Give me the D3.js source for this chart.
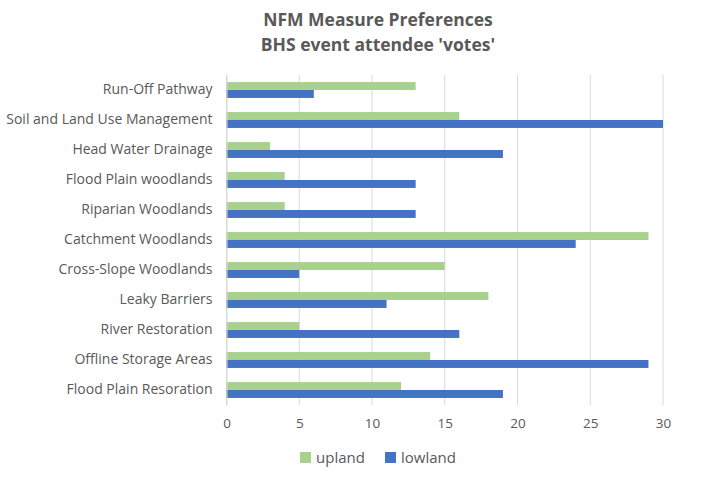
<!DOCTYPE html>
<html>
<head>
<meta charset="utf-8">
<script src="https://cdn.jsdelivr.net/npm/d3@7"></script>
<style>
  body { margin: 0; background: #fff; }
  svg { font-family: "Open Sans", "Liberation Sans", sans-serif; }
</style>
</head>
<body>
<svg id="chart" width="717" height="479"></svg>
<script>
// ============================================================
// DATA
// ============================================================
const categories = [
  'Run-Off Pathway', 'Soil and Land Use Management', 'Head Water Drainage',
  'Flood Plain woodlands', 'Riparian Woodlands', 'Catchment Woodlands',
  'Cross-Slope Woodlands', 'Leaky Barriers', 'River Restoration',
  'Offline Storage Areas', 'Flood Plain Resoration'
];
const upland = [13, 16, 3, 4, 4, 29, 15, 18, 5, 14, 12];
const lowland = [6, 30, 19, 13, 13, 24, 5, 11, 16, 29, 19];
const xTicks = [0, 5, 10, 15, 20, 25, 30];
const seriesNames = ['upland', 'lowland'];
const seriesColors = ['#A9D18E', '#4472C4'];

// ============================================================
// SCALES
// ============================================================
const svg = d3.select('#chart');
const plotL = 226.5, plotR = 663, plotT = 75, plotB = 405;
const textCol = '#595959';

const x = d3.scaleLinear().domain([0, 30]).range([plotL, plotR]);
const y = d3.scaleBand().domain(categories).range([plotT, plotB]).paddingInner(0.47).paddingOuter(0.235);
const sub = d3.scaleBand().domain(seriesNames).range([0, y.bandwidth()]);

// title
svg.append('text').attr('x', 378).attr('y', 26).attr('text-anchor', 'middle')
  .attr('font-size', 17.5).attr('font-weight', 'bold').attr('fill', textCol)
  .text('NFM Measure Preferences');
svg.append('text').attr('x', 378).attr('y', 51).attr('text-anchor', 'middle')
  .attr('font-size', 17.5).attr('font-weight', 'bold').attr('fill', textCol)
  .text("BHS event attendee 'votes'");

// gridlines
svg.append('g').selectAll('line').data(xTicks).join('line')
  .attr('x1', d => x(d)).attr('x2', d => x(d))
  .attr('y1', plotT).attr('y2', plotB)
  .attr('stroke', '#D9D9D9').attr('stroke-width', 1);

// bars
const rows = categories.map((c, i) => ({ cat: c, upland: upland[i], lowland: lowland[i] }));
seriesNames.forEach((s, si) => {
  svg.append('g').selectAll('rect').data(rows).join('rect')
    .attr('x', x(0))
    .attr('y', d => y(d.cat) + sub(s))
    .attr('width', d => x(d[s]) - x(0))
    .attr('height', sub.bandwidth())
    .attr('fill', seriesColors[si]);
});

// x axis
const xAxis = svg.append('g').attr('transform', `translate(0,${plotB})`)
  .call(d3.axisBottom(x).tickValues(xTicks).tickSize(0).tickPadding(13));
xAxis.select('.domain').remove();
xAxis.selectAll('text').attr('font-size', 13.5).attr('fill', textCol)
  .attr('font-family', '"Open Sans", "Liberation Sans", sans-serif');

// y axis
const yAxis = svg.append('g').attr('transform', `translate(${plotL},0)`)
  .call(d3.axisLeft(y).tickSize(0).tickPadding(14));
yAxis.select('.domain').attr('stroke', '#D9D9D9');
yAxis.selectAll('text').attr('font-size', 14).attr('fill', textCol)
  .attr('font-family', '"Open Sans", "Liberation Sans", sans-serif');

// legend
const legendX = [300, 385];
const lg = svg.append('g').selectAll('g').data(seriesNames).join('g')
  .attr('transform', (d, i) => `translate(${legendX[i]},452)`);
lg.append('rect').attr('width', 11).attr('height', 11).attr('fill', (d, i) => seriesColors[i]);
lg.append('text').attr('x', 16).attr('y', 10.5).attr('font-size', 15).attr('fill', textCol).text(d => d);
</script>
</body>
</html>
